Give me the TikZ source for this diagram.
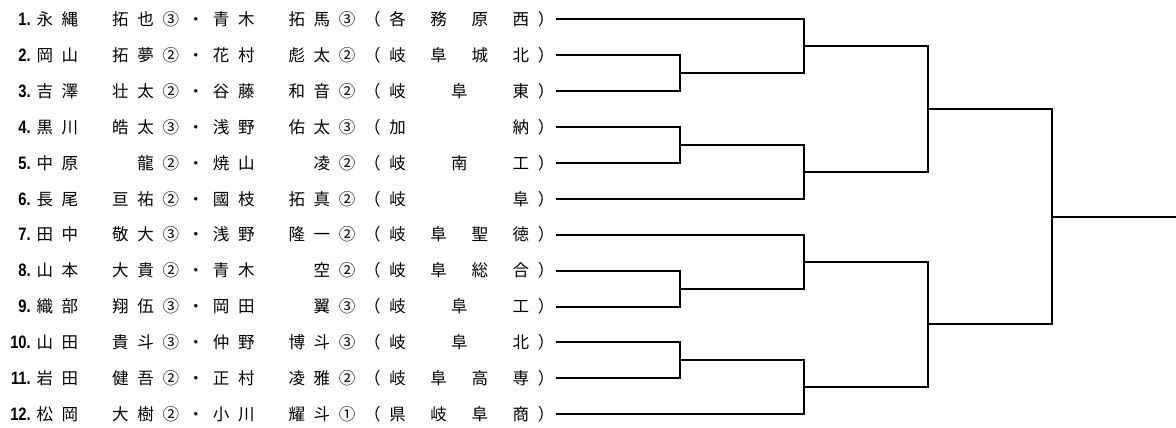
\documentclass[tikz,border=0pt]{standalone}
\usepackage{fontspec}
\setmainfont{Noto Sans CJK JP}
\newfontfamily\numfont[FakeStretch=0.82]{Liberation Sans}
\newlength\cw \setlength\cw{25.2pt}
\newlength\tw \setlength\tw{148.6pt}
\newcommand\cl[1]{\makebox[\cw][c]{#1}}
\newcommand\duo[4]{\cl{#1}\cl{#2}\cl{}\cl{#3}\cl{#4}}
\newcommand\kou[1]{\cl{（}\makebox[\tw][s]{#1}\cl{）}}
\tikzset{
  numlbl/.style={anchor=base east, inner sep=0pt, font=\numfont\bfseries\fontsize{18}{20}\selectfont},
  pairtxt/.style={anchor=base west, inner sep=0pt, font=\fontsize{16.5}{20}\selectfont},
  bline/.style={line width=2pt, black}
}
\begin{document}
\begin{tikzpicture}[x=1pt,y=-1pt]
  \useasboundingbox (0,0) rectangle (1176,428);

  % pairs
  \node[numlbl] (n1) at (31,25.5) {1.};
  \node[pairtxt] (t1) at (32,25.5) {\duo{永}{縄}{拓}{也}\cl{③}\cl{・}\duo{青}{木}{拓}{馬}\cl{③}\kou{\cl{各}\hfill\cl{務}\hfill\cl{原}\hfill\cl{西}}};
  \node[numlbl] (n2) at (31,61.4) {2.};
  \node[pairtxt] (t2) at (32,61.4) {\duo{岡}{山}{拓}{夢}\cl{②}\cl{・}\duo{花}{村}{彪}{太}\cl{②}\kou{\cl{岐}\hfill\cl{阜}\hfill\cl{城}\hfill\cl{北}}};
  \node[numlbl] (n3) at (31,97.3) {3.};
  \node[pairtxt] (t3) at (32,97.3) {\duo{吉}{澤}{壮}{太}\cl{②}\cl{・}\duo{谷}{藤}{和}{音}\cl{②}\kou{\cl{岐}\hfill\cl{阜}\hfill\cl{東}}};
  \node[numlbl] (n4) at (31,133.2) {4.};
  \node[pairtxt] (t4) at (32,133.2) {\duo{黒}{川}{皓}{太}\cl{③}\cl{・}\duo{浅}{野}{佑}{太}\cl{③}\kou{\cl{加}\hfill\cl{納}}};
  \node[numlbl] (n5) at (31,169.1) {5.};
  \node[pairtxt] (t5) at (32,169.1) {\duo{中}{原}{}{龍}\cl{②}\cl{・}\duo{焼}{山}{}{凌}\cl{②}\kou{\cl{岐}\hfill\cl{南}\hfill\cl{工}}};
  \node[numlbl] (n6) at (31,205.0) {6.};
  \node[pairtxt] (t6) at (32,205.0) {\duo{長}{尾}{亘}{祐}\cl{②}\cl{・}\duo{國}{枝}{拓}{真}\cl{②}\kou{\cl{岐}\hfill\cl{阜}}};
  \node[numlbl] (n7) at (31,240.9) {7.};
  \node[pairtxt] (t7) at (32,240.9) {\duo{田}{中}{敬}{大}\cl{③}\cl{・}\duo{浅}{野}{隆}{一}\cl{②}\kou{\cl{岐}\hfill\cl{阜}\hfill\cl{聖}\hfill\cl{徳}}};
  \node[numlbl] (n8) at (31,276.8) {8.};
  \node[pairtxt] (t8) at (32,276.8) {\duo{山}{本}{大}{貴}\cl{②}\cl{・}\duo{青}{木}{}{空}\cl{②}\kou{\cl{岐}\hfill\cl{阜}\hfill\cl{総}\hfill\cl{合}}};
  \node[numlbl] (n9) at (31,312.7) {9.};
  \node[pairtxt] (t9) at (32,312.7) {\duo{織}{部}{翔}{伍}\cl{③}\cl{・}\duo{岡}{田}{}{翼}\cl{③}\kou{\cl{岐}\hfill\cl{阜}\hfill\cl{工}}};
  \node[numlbl] (n10) at (31,348.6) {10.};
  \node[pairtxt] (t10) at (32,348.6) {\duo{山}{田}{貴}{斗}\cl{③}\cl{・}\duo{仲}{野}{博}{斗}\cl{③}\kou{\cl{岐}\hfill\cl{阜}\hfill\cl{北}}};
  \node[numlbl] (n11) at (31,384.5) {11.};
  \node[pairtxt] (t11) at (32,384.5) {\duo{岩}{田}{健}{吾}\cl{②}\cl{・}\duo{正}{村}{凌}{雅}\cl{②}\kou{\cl{岐}\hfill\cl{阜}\hfill\cl{高}\hfill\cl{専}}};
  \node[numlbl] (n12) at (31,420.4) {12.};
  \node[pairtxt] (t12) at (32,420.4) {\duo{松}{岡}{大}{樹}\cl{②}\cl{・}\duo{小}{川}{耀}{斗}\cl{①}\kou{\cl{県}\hfill\cl{岐}\hfill\cl{阜}\hfill\cl{商}}};

  % line starts
  \coordinate (s1) at (556,19.3);
  \coordinate (s2) at (556,55.2);
  \coordinate (s3) at (556,91.1);
  \coordinate (s4) at (556,127.0);
  \coordinate (s5) at (556,162.9);
  \coordinate (s6) at (556,198.8);
  \coordinate (s7) at (556,234.7);
  \coordinate (s8) at (556,270.6);
  \coordinate (s9) at (556,306.5);
  \coordinate (s10) at (556,342.4);
  \coordinate (s11) at (556,378.3);
  \coordinate (s12) at (556,414.2);

  % junctions
  \coordinate (q1) at (680,73.15);
  \coordinate (q2) at (680,144.95);
  \coordinate (q3) at (680,288.55);
  \coordinate (q4) at (680,360.35);
  \coordinate (r1) at (804,46.2);
  \coordinate (r2) at (804,171.9);
  \coordinate (r3) at (804,261.6);
  \coordinate (r4) at (804,387.3);
  \coordinate (u1) at (928,109.05);
  \coordinate (u2) at (928,324.45);
  \coordinate (w) at (1052,216.75);
  \coordinate (e) at (1176,216.75);

  % bracket
  \draw[bline] (s2) -| (q1) |- (s3);
  \draw[bline] (s4) -| (q2) |- (s5);
  \draw[bline] (s8) -| (q3) |- (s9);
  \draw[bline] (s10) -| (q4) |- (s11);
  \draw[bline] (s1) -| (r1) |- (q1);
  \draw[bline] (q2) -| (r2) |- (s6);
  \draw[bline] (s7) -| (r3) |- (q3);
  \draw[bline] (q4) -| (r4) |- (s12);
  \draw[bline] (r1) -| (u1) |- (r2);
  \draw[bline] (r3) -| (u2) |- (r4);
  \draw[bline] (u1) -| (w) |- (u2);
  \draw[bline] (w) -- (e);
\end{tikzpicture}
\end{document}
